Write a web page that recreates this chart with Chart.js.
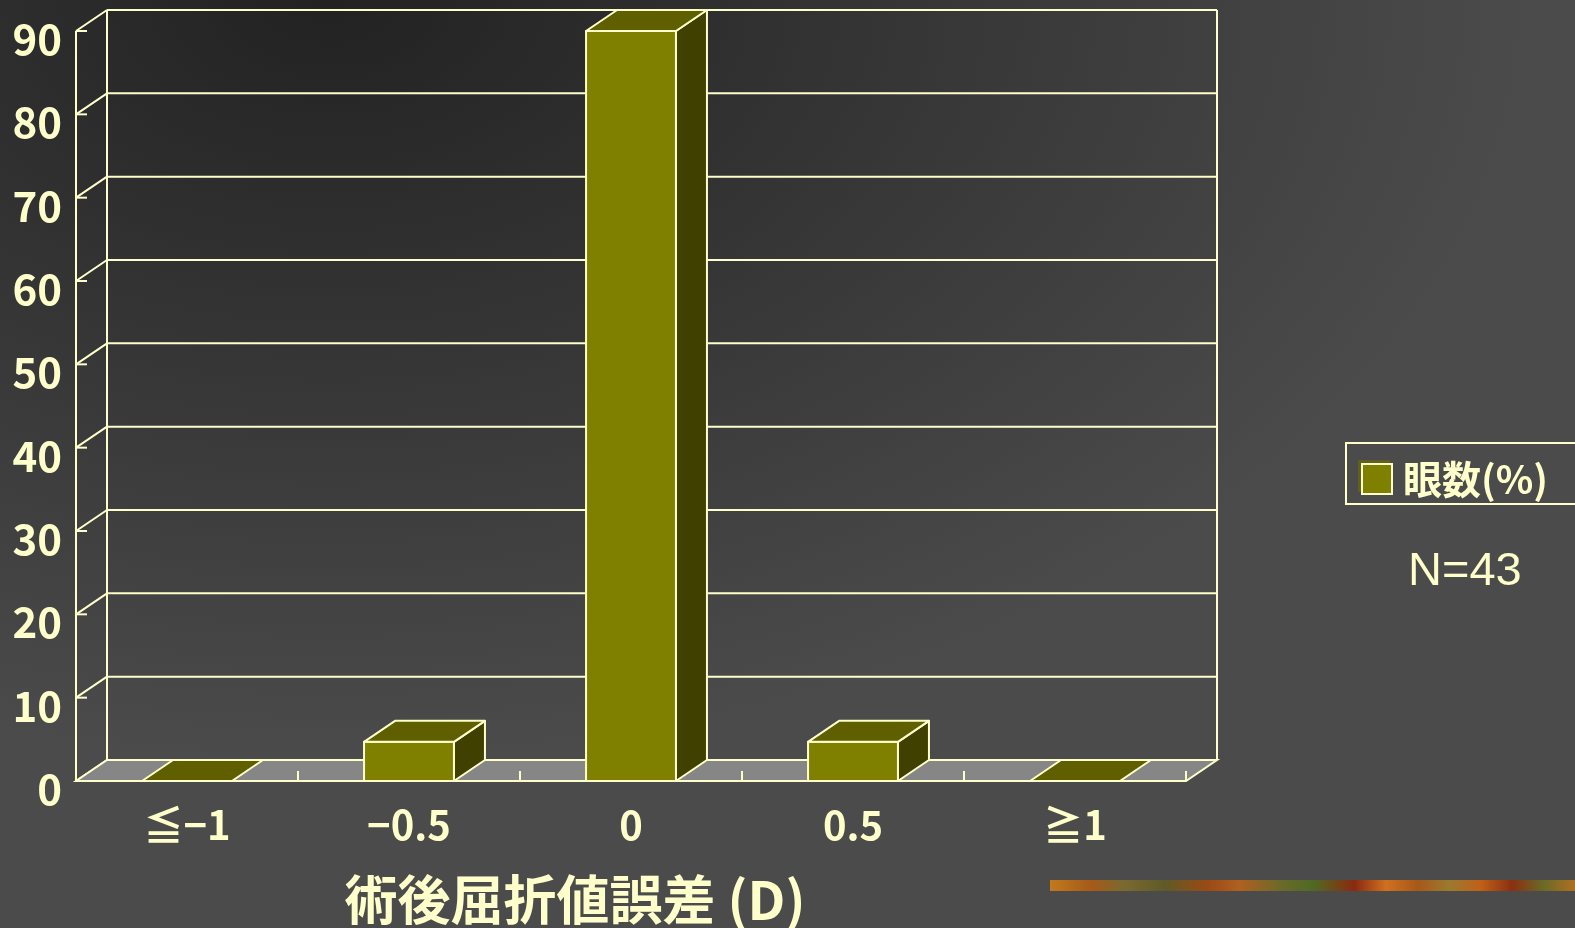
<!DOCTYPE html>
<html>
<head>
<meta charset="utf-8">
<script src="https://cdn.jsdelivr.net/npm/chart.js@4/dist/chart.umd.min.js"></script>
<style>
  html, body { margin: 0; padding: 0; }
  body {
    width: 1575px; height: 928px; overflow: hidden; position: relative;
    background: #4b4b4b radial-gradient(ellipse 1200px 760px at 330px 0px, #222 0%, #4b4b4b 100%);
    font-family: 'Noto Sans CJK JP', sans-serif;
  }
  #chart { position: absolute; left: 0; top: 0; }
  #legend {
    position: absolute; left: 1345px; top: 442px; width: 232px; height: 63px;
    box-sizing: border-box; border: 2px solid #ffffcc;
    color: #ffffcc; font-weight: bold; font-size: 39px; line-height: 59px;
    white-space: nowrap;
  }
  #legend .swatch {
    position: absolute; left: 14px; top: 19px; width: 28px; height: 28px;
    background: #808000; border: 2px solid #ffffcc;
    box-shadow: -3px -3px 0 #5f5f20;
  }
  #legend .label { position: absolute; left: 56px; top: 4px; }
  #note {
    position: absolute; left: 1408px; top: 541px;
    color: #ffffcc; font: 47px 'Liberation Sans', Arial, sans-serif;
  }
  #strip {
    position: absolute; left: 1050px; top: 880px; width: 525px; height: 11px;
    background: linear-gradient(90deg, #c27a1c 0%, #a55a18 8%, #7a6a30 14%, #5f5a28 22%,
      #9a4a14 30%, #b06020 36%, #6b6a2a 44%, #4f6a24 50%, #8a2a10 58%, #d07020 64%,
      #a85818 70%, #9a7a30 76%, #c06018 82%, #8a3010 88%, #6a6a28 94%, #b07020 100%);
  }
</style>
</head>
<body>
<canvas id="chart" width="1575" height="928"></canvas>
<div id="legend"><span class="swatch"></span><span class="label"></span></div>
<div id="note"></div>
<div id="strip"></div>
<script>
  // postoperative refraction error distribution
  const categories = ['≦−1', '−0.5', '0', '0.5', '≧1'];
  const eyePercent = [0, 4.7, 90.7, 4.7, 0];
  const seriesLabel = '眼数(%)';
  const axisTitle = '術後屈折値誤差 (D)';
  const sampleNote = 'N=43';
  const yMin = 0, yMax = 90, yStep = 10;

  const CREAM = '#ffffcc';
  const FRONT = '#808000', TOP = '#5f5f00', SIDE = '#404000';
  const FLOOR = '#868686';
  const DX = 31, DY = 21; // depth offset of the box

  document.querySelector('#legend .label').textContent = seriesLabel;
  document.getElementById('note').textContent = sampleNote;

  function line(ctx, x1, y1, x2, y2) {
    ctx.beginPath(); ctx.moveTo(x1, y1); ctx.lineTo(x2, y2); ctx.stroke();
  }
  function poly(ctx, pts, fill) {
    ctx.beginPath();
    pts.forEach((p, i) => i ? ctx.lineTo(p[0], p[1]) : ctx.moveTo(p[0], p[1]));
    ctx.closePath();
    ctx.fillStyle = fill; ctx.fill(); ctx.stroke();
  }

  const box3d = {
    id: 'box3d',
    beforeDatasetsDraw(chart) {
      const { ctx, chartArea: a, scales: { x, y } } = chart;
      const L = a.left, R = a.right;
      const B = y.getPixelForValue(yMin), T = y.getPixelForValue(yMax);
      ctx.save();
      ctx.strokeStyle = CREAM; ctx.lineWidth = 2;
      // back wall gridlines, side wall diagonals, front ticks
      y.ticks.forEach(t => {
        const py = y.getPixelForValue(t.value);
        line(ctx, L + DX, py - DY, R + DX, py - DY);
        line(ctx, L, py, L + DX, py - DY);
        line(ctx, L, py, L + 11, py);
      });
      line(ctx, L + DX, T - DY, L + DX, B - DY);
      line(ctx, R + DX, T - DY, R + DX, B - DY);
      line(ctx, L, T, L, B);
      // floor
      poly(ctx, [[L, B], [R, B], [R + DX, B - DY], [L + DX, B - DY]], FLOOR);
      for (let i = 0; i < categories.length; i++) {
        const px = x.getPixelForValue(i + 0.5);
        line(ctx, px, B, px, B - 10);
      }
      ctx.restore();
    },
    afterDatasetsDraw(chart) {
      const { ctx, chartArea: a } = chart;
      const meta = chart.getDatasetMeta(0);
      ctx.save();
      ctx.strokeStyle = CREAM; ctx.lineWidth = 2; ctx.lineJoin = 'round';
      meta.data.forEach(el => {
        const p = el.getProps(['x', 'y', 'base', 'width'], true);
        const x0 = p.x - p.width / 2, x1 = p.x + p.width / 2;
        const top = Math.max(p.y, a.top), base = p.base;
        if (base - top > 0.5) {
          poly(ctx, [[x1, top], [x1 + DX, top - DY], [x1 + DX, base - DY], [x1, base]], SIDE);
          poly(ctx, [[x0, top], [x1, top], [x1, base], [x0, base]], FRONT);
        }
        poly(ctx, [[x0, top], [x1, top], [x1 + DX, top - DY], [x0 + DX, top - DY]], TOP);
      });
      ctx.restore();
    },
    afterDraw(chart) {
      const { ctx } = chart;
      ctx.save();
      ctx.fillStyle = CREAM;
      ctx.font = "bold 53px 'Noto Sans CJK JP', sans-serif";
      ctx.textAlign = 'center';
      ctx.textBaseline = 'middle';
      ctx.fillText(axisTitle, 575, 900);
      ctx.restore();
    }
  };

  const fontFamily = "'Noto Sans CJK JP', sans-serif";

  new Chart(document.getElementById('chart').getContext('2d'), {
    type: 'bar',
    data: {
      labels: categories,
      datasets: [{
        label: seriesLabel,
        data: eyePercent,
        backgroundColor: 'rgba(0,0,0,0)',
        borderWidth: 0,
        barPercentage: 0.405,
        categoryPercentage: 1
      }]
    },
    options: {
      responsive: false,
      animation: false,
      devicePixelRatio: 1,
      layout: { padding: { left: 0, top: 31, right: 389, bottom: 0 } },
      plugins: { legend: { display: false }, tooltip: { enabled: false } },
      scales: {
        x: {
          grid: { display: false, drawTicks: false },
          border: { display: false },
          ticks: { color: CREAM, font: { family: fontFamily, weight: 'bold', size: 40 }, padding: 20, maxRotation: 0 },
          afterFit(s) { s.height = 147; s.paddingLeft = 0; s.paddingRight = 0; }
        },
        y: {
          min: yMin, max: yMax,
          grid: { display: false, drawTicks: false },
          border: { display: false },
          ticks: { stepSize: yStep, color: CREAM, font: { family: fontFamily, weight: 'bold', size: 42 }, padding: 14, labelOffset: 8 },
          afterFit(s) { s.width = 76; s.paddingTop = 0; s.paddingBottom = 0; }
        }
      }
    },
    plugins: [box3d]
  });
</script>
</body>
</html>
